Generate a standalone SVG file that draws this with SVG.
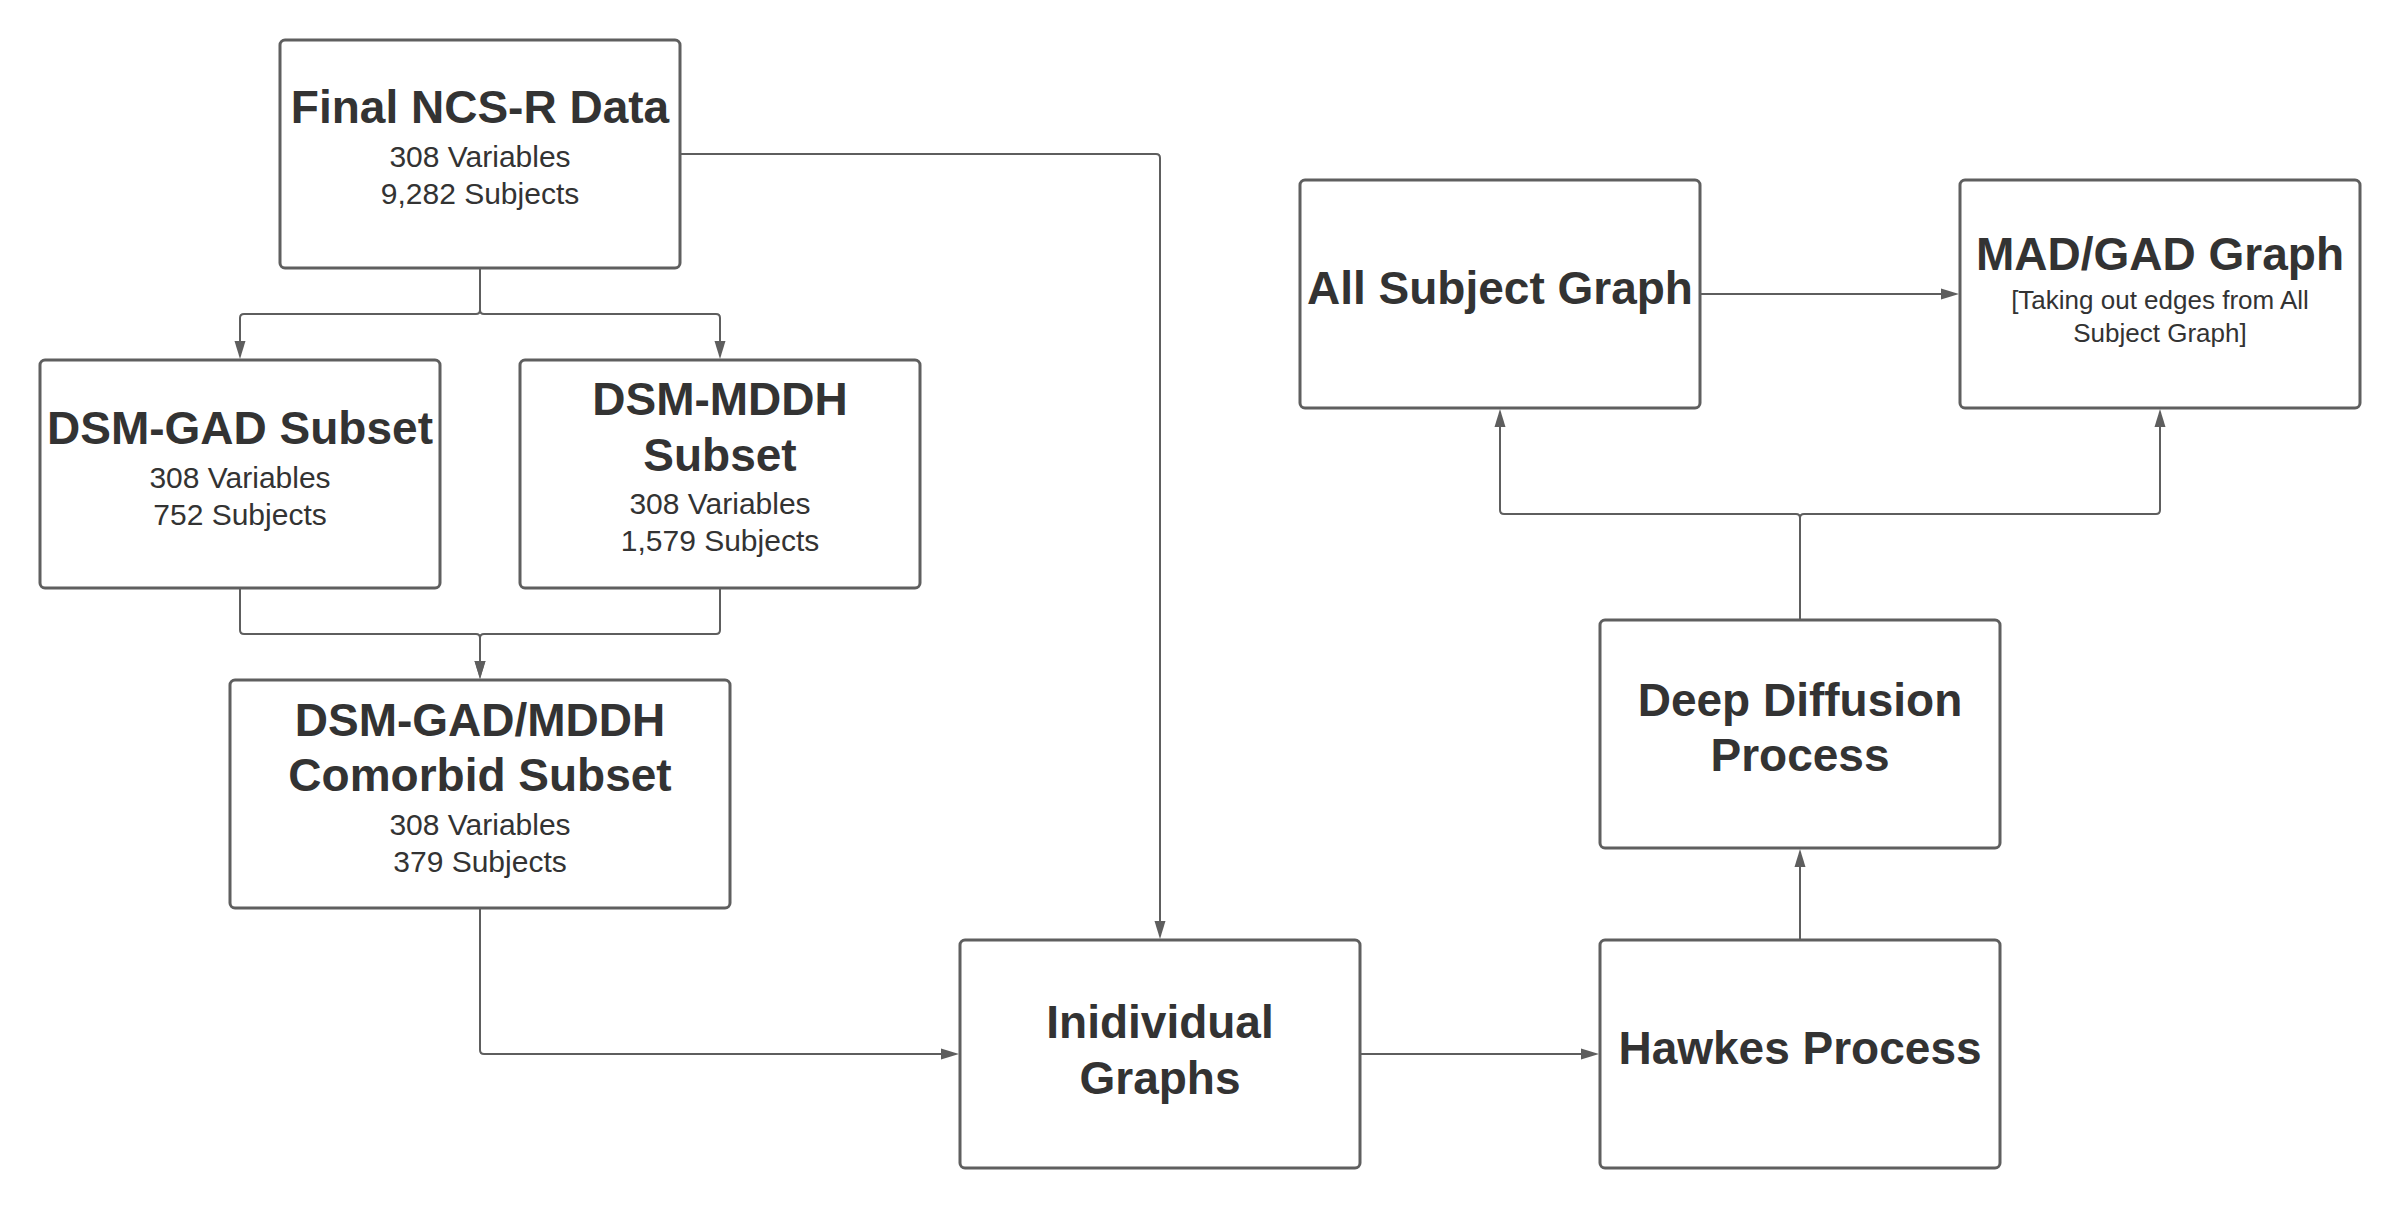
<svg xmlns="http://www.w3.org/2000/svg" width="2400" height="1209" viewBox="0 0 2400 1209">
  <style>
    .box { fill: #ffffff; stroke: #5f5f5f; stroke-width: 3; }
    .t { font-family: "Liberation Sans", Arial, sans-serif; font-weight: bold; font-size: 46px; fill: #333333; text-anchor: middle; }
    .s { font-family: "Liberation Sans", Arial, sans-serif; font-size: 30px; fill: #333333; text-anchor: middle; }
    .s2 { font-family: "Liberation Sans", Arial, sans-serif; font-size: 26px; fill: #333333; text-anchor: middle; }
    .c { fill: none; stroke: #5e5e5e; stroke-width: 2; marker-end: url(#arr); }
  </style>
  <defs>
    <marker id="arr" markerWidth="18" markerHeight="11" refX="0" refY="5.5" orient="auto" markerUnits="userSpaceOnUse" overflow="visible">
      <path d="M0,0 L18,5.5 L0,11 z" fill="#5e5e5e"/>
    </marker>
  </defs>
  <rect width="2400" height="1209" fill="#ffffff"/>

  <g id="connectors">
    <path class="c" d="M480,269 V310 Q480,314 476,314 H244 Q240,314 240,318 V341"/>
    <path class="c" d="M480,269 V310 Q480,314 484,314 H716 Q720,314 720,318 V341"/>
    <path class="c" d="M240,589 V630 Q240,634 244,634 H476 Q480,634 480,638 V661"/>
    <path class="c" d="M720,589 V630 Q720,634 716,634 H484 Q480,634 480,638 V661"/>
    <path class="c" d="M681,154 H1156 Q1160,154 1160,158 V921"/>
    <path class="c" d="M480,909 V1050 Q480,1054 484,1054 H941"/>
    <path class="c" d="M1361,1054 H1581"/>
    <path class="c" d="M1800,939 V867"/>
    <path class="c" d="M1800,619 V518 Q1800,514 1796,514 H1504 Q1500,514 1500,510 V427"/>
    <path class="c" d="M1800,619 V518 Q1800,514 1804,514 H2156 Q2160,514 2160,510 V427"/>
    <path class="c" d="M1701,294 H1941"/>
  </g>

  <g id="final-ncsr">
    <rect class="box" x="280" y="40" width="400" height="228" rx="5"/>
    <text class="t" x="480" y="123">Final NCS-R Data</text>
    <text class="s" x="480" y="167">308 Variables</text>
    <text class="s" x="480" y="204">9,282 Subjects</text>
  </g>

  <g id="dsm-gad">
    <rect class="box" x="40" y="360" width="400" height="228" rx="5"/>
    <text class="t" x="240" y="444">DSM-GAD Subset</text>
    <text class="s" x="240" y="488">308 Variables</text>
    <text class="s" x="240" y="525">752 Subjects</text>
  </g>

  <g id="dsm-mddh">
    <rect class="box" x="520" y="360" width="400" height="228" rx="5"/>
    <text class="t" x="720" y="415">DSM-MDDH</text>
    <text class="t" x="720" y="471">Subset</text>
    <text class="s" x="720" y="514">308 Variables</text>
    <text class="s" x="720" y="551">1,579 Subjects</text>
  </g>

  <g id="comorbid">
    <rect class="box" x="230" y="680" width="500" height="228" rx="5"/>
    <text class="t" x="480" y="736">DSM-GAD/MDDH</text>
    <text class="t" x="480" y="791">Comorbid Subset</text>
    <text class="s" x="480" y="835">308 Variables</text>
    <text class="s" x="480" y="872">379 Subjects</text>
  </g>

  <g id="individual-graphs">
    <rect class="box" x="960" y="940" width="400" height="228" rx="5"/>
    <text class="t" x="1160" y="1038">Inidividual</text>
    <text class="t" x="1160" y="1094">Graphs</text>
  </g>

  <g id="hawkes">
    <rect class="box" x="1600" y="940" width="400" height="228" rx="5"/>
    <text class="t" x="1800" y="1064">Hawkes Process</text>
  </g>

  <g id="deep-diffusion">
    <rect class="box" x="1600" y="620" width="400" height="228" rx="5"/>
    <text class="t" x="1800" y="716">Deep Diffusion</text>
    <text class="t" x="1800" y="771">Process</text>
  </g>

  <g id="all-subject">
    <rect class="box" x="1300" y="180" width="400" height="228" rx="5"/>
    <text class="t" x="1500" y="304">All Subject Graph</text>
  </g>

  <g id="mad-gad">
    <rect class="box" x="1960" y="180" width="400" height="228" rx="5"/>
    <text class="t" x="2160" y="270">MAD/GAD Graph</text>
    <text class="s2" x="2160" y="309">[Taking out edges from All</text>
    <text class="s2" x="2160" y="342">Subject Graph]</text>
  </g>
</svg>
